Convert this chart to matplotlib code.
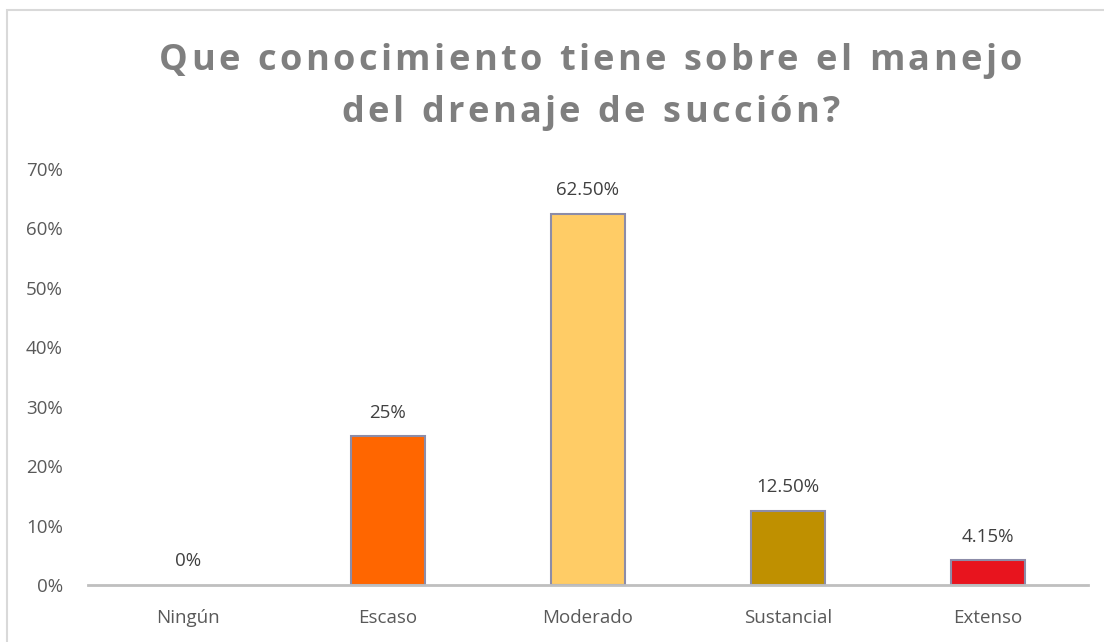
import matplotlib.pyplot as plt
from matplotlib.patches import Rectangle

categories = ["Ningún", "Escaso", "Moderado", "Sustancial", "Extenso"]
values = [0.0, 0.25, 0.625, 0.125, 0.0415]
labels = ["0%", "25%", "62.50%", "12.50%", "4.15%"]
colors = ["#FF6600", "#FF6600", "#FFCC66", "#BF9000", "#E8141E"]
title_lines = ["Que conocimiento tiene sobre el manejo", "del drenaje de succión?"]

plt.rcParams['font.family'] = ['Open Sans', 'DejaVu Sans']

fig = plt.figure(figsize=(11.04, 6.42), dpi=100)
# light chart-area frame (runs off the right and bottom edges)
fig.patches.append(Rectangle((7 / 1104, -0.05), 1.1, 1 - 10 / 642 + 0.05,
                             transform=fig.transFigure, fill=False,
                             edgecolor="#D9D9D9", linewidth=1.5))

ax = fig.add_axes([0.0797, 57 / 642, 0.9058, 416 / 642])
x = range(len(categories))
edges = ["none" if v == 0 else "#8C8CA8" for v in values]
ax.bar(x, values, width=0.37, color=colors, edgecolor=edges, linewidth=1.5)

for xi, v, lab in zip(x, values, labels):
    ax.annotate(lab, (xi, v), xytext=(0, 10.5), textcoords="offset points",
                ha="center", va="bottom", fontsize=13.5, color="#404040")

ax.set_xlim(-0.5, 4.5)
ax.set_ylim(0, 0.7)
ax.set_yticks([i / 10 for i in range(8)])
ax.set_yticklabels([f"{i * 10}%" for i in range(8)])
ax.set_xticks(list(x))
ax.set_xticklabels(categories)
ax.tick_params(axis="both", length=0, labelsize=13.5, labelcolor="#595959")
ax.tick_params(axis="x", pad=17)
ax.tick_params(axis="y", pad=18)
for s in ["top", "right", "left"]:
    ax.spines[s].set_visible(False)
ax.spines["bottom"].set_color("#BFBFBF")
ax.spines["bottom"].set_linewidth(2)


def char_widths(fig, s, **kw):
    r = fig.canvas.get_renderer()
    widths = []
    for ch in s:
        t = fig.text(0, 0, ch if ch != " " else "n", **kw)
        w = t.get_window_extent(r).width
        if ch == " ":
            w *= 0.45
        widths.append(w)
        t.remove()
    return widths


def spaced_text(fig, s, xc, y, spacing, **kw):
    # draw char by char to imitate the expanded letter spacing
    widths = char_widths(fig, s, **kw)
    total = sum(widths) + spacing * (len(s) - 1)
    pos = xc * fig.bbox.width - total / 2
    for ch, w in zip(s, widths):
        if ch != " ":
            fig.text(pos / fig.bbox.width, y, ch, ha="left", va="baseline", **kw)
        pos += w + spacing


title_kw = dict(fontsize=26, fontweight="bold", color="#7F7F7F")
# fit the first line to the width it has in the original (~863 px)
w0 = char_widths(fig, title_lines[0], **title_kw)
gap = (863 - sum(w0)) / (len(title_lines[0]) - 1)
spaced_text(fig, title_lines[0], 0.535, 1 - 70 / 642, gap, **title_kw)
spaced_text(fig, title_lines[1], 0.535, 1 - 122 / 642, gap, **title_kw)

fig.savefig("out.png", dpi=100)
